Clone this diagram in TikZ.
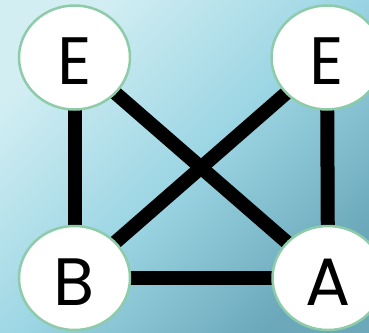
\documentclass[tikz,border=0pt]{standalone}
\usepackage{fontspec}
\setmainfont{Poppins}
\usetikzlibrary{shapes.geometric,backgrounds}
\definecolor{skyA}{HTML}{D2EEF3}
\definecolor{skyM}{HTML}{9DD6E4}
\definecolor{skyB}{HTML}{6AA8BA}
\definecolor{rim}{HTML}{8ECBA9}

\begin{document}
\begin{tikzpicture}[x=1pt,y=-1pt,
    vertex/.style={ellipse,draw=rim,line width=2.5pt,fill=white,
      minimum width=111pt,minimum height=104pt,inner sep=0pt,
      font=\fontsize{67}{67}\selectfont,text height=54pt,text depth=0pt},
    link/.style={line width=14pt}]
  \useasboundingbox (0,0) rectangle (369,332);

  % the four letters
  \node[vertex] (e1) at (74.5,57.5) {E};
  \node[vertex] (e2) at (327,57.5) {E};
  \node[vertex] (b)  at (74.5,278) {B};
  \node[vertex] (a)  at (328,278) {A};

  \begin{pgfonlayer}{background}
    \shade[top color=skyA,bottom color=skyB,middle color=skyM,shading angle=45]
      (0,0) rectangle (369,332);
    \draw[link] (e1.center) -- (b.center);
    \draw[link] (e2.center) -- (a.center);
    \draw[link] (b.center) -- (a.center);
    \draw[link] (e1.center) -- (a.center);
    \draw[link] (e2.center) -- (b.center);
  \end{pgfonlayer}
\end{tikzpicture}
\end{document}
